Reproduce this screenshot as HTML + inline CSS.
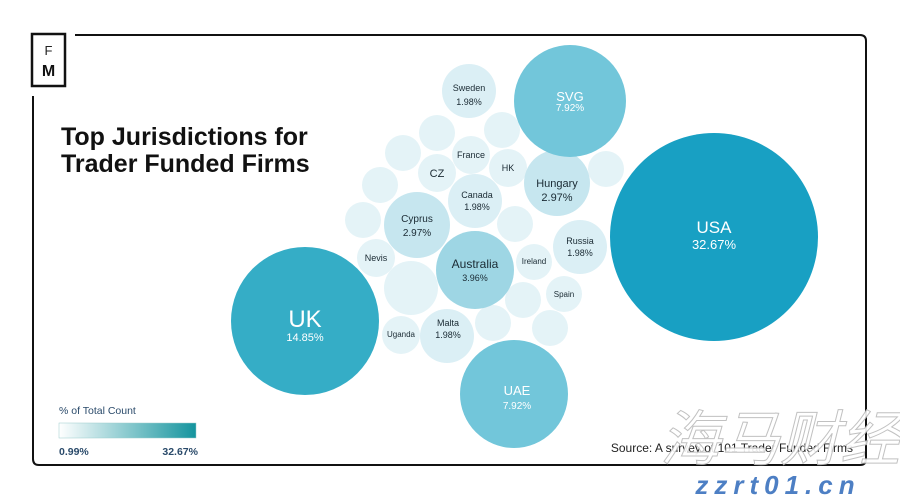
<!DOCTYPE html>
<html><head><meta charset="utf-8"><style>
body{margin:0;background:#fff;width:900px;height:499px;overflow:hidden;font-family:"Liberation Sans",sans-serif}
</style></head><body>
<svg width="900" height="499" viewBox="0 0 900 499" xmlns="http://www.w3.org/2000/svg" font-family="Liberation Sans, sans-serif">
<path d="M75 35 H860 Q866 35 866 41 V459 Q866 465 860 465 H39 Q33 465 33 459 V96" fill="none" stroke="#111" stroke-width="2"/>
<rect x="32" y="34" width="33" height="52" fill="#fff" stroke="#111" stroke-width="2.5"/>
<text x="48.5" y="55" font-size="13" text-anchor="middle" fill="#222">F</text>
<text x="48.5" y="76" font-size="16" font-weight="bold" text-anchor="middle" fill="#111">M</text>
<text x="61" y="145" font-size="25" font-weight="bold" fill="#111">Top Jurisdictions for</text>
<text x="61" y="172" font-size="25" font-weight="bold" fill="#111">Trader Funded Firms</text>
<g fill="#e4f3f7">
<circle cx="437" cy="133" r="18"/><circle cx="502" cy="130" r="18"/><circle cx="403" cy="153" r="18"/>
<circle cx="606" cy="169" r="18"/><circle cx="380" cy="185" r="18"/><circle cx="363" cy="220" r="18"/>
<circle cx="515" cy="224" r="18"/><circle cx="411" cy="288" r="27"/><circle cx="523" cy="300" r="18"/>
<circle cx="493" cy="323" r="18"/><circle cx="550" cy="328" r="18"/>
<circle cx="471" cy="155" r="19"/><circle cx="508" cy="168" r="19"/><circle cx="437" cy="173" r="19"/>
<circle cx="376" cy="258" r="19"/><circle cx="534" cy="262" r="18"/><circle cx="564" cy="294" r="18"/><circle cx="401" cy="335" r="19"/>
</g>
<g fill="#dbeff5">
<circle cx="469" cy="91" r="27"/><circle cx="475" cy="201" r="27"/><circle cx="580" cy="247" r="27"/><circle cx="447" cy="336" r="27"/>
</g>
<g fill="#c6e6ef"><circle cx="557" cy="183" r="33"/><circle cx="417" cy="225" r="33"/></g>
<circle cx="475" cy="270" r="39" fill="#9ed6e4"/>
<circle cx="570" cy="101" r="56" fill="#72c6da"/>
<circle cx="514" cy="394" r="54" fill="#72c6da"/>
<circle cx="305" cy="321" r="74" fill="#35adc6"/>
<circle cx="714" cy="237" r="104" fill="#18a0c3"/>
<g fill="#fff" text-anchor="middle">
<text x="714" y="233" font-size="17">USA</text><text x="714" y="249" font-size="13">32.67%</text>
<text x="305" y="327" font-size="24">UK</text><text x="305" y="341" font-size="11">14.85%</text>
<text x="570" y="101" font-size="13">SVG</text><text x="570" y="111" font-size="10">7.92%</text>
<text x="517" y="395" font-size="13">UAE</text><text x="517" y="409" font-size="10">7.92%</text>
</g>
<g fill="#1a2a33" text-anchor="middle" font-size="9">
<text x="475" y="268" font-size="12">Australia</text><text x="475" y="281">3.96%</text>
<text x="557" y="187" font-size="11">Hungary</text><text x="557" y="201" font-size="11">2.97%</text>
<text x="417" y="222" font-size="10">Cyprus</text><text x="417" y="236" font-size="10">2.97%</text>
<text x="469" y="91">Sweden</text><text x="469" y="105">1.98%</text>
<text x="477" y="198">Canada</text><text x="477" y="210">1.98%</text>
<text x="580" y="244">Russia</text><text x="580" y="256">1.98%</text>
<text x="448" y="326">Malta</text><text x="448" y="338">1.98%</text>
<text x="471" y="158">France</text><text x="508" y="171">HK</text><text x="437" y="177" font-size="11">CZ</text>
<text x="376" y="261">Nevis</text><text x="534" y="264" font-size="8">Ireland</text><text x="564" y="297" font-size="8">Spain</text><text x="401" y="337" font-size="8">Uganda</text>
</g>
<text x="59" y="414" font-size="10.5" fill="#2a4a6a">% of Total Count</text>
<defs><linearGradient id="g"><stop offset="0" stop-color="#fff"/><stop offset="1" stop-color="#14949e"/></linearGradient></defs>
<rect x="59" y="423" width="137" height="15" fill="url(#g)" stroke="#9cc" stroke-width="0.5"/>
<text x="59" y="455" font-size="10.5" font-weight="bold" fill="#2a4a6a">0.99%</text>
<text x="198" y="455" font-size="10.5" font-weight="bold" fill="#2a4a6a" text-anchor="end">32.67%</text>
<text x="853" y="452" font-size="12" fill="#222" text-anchor="end">Source: A survey of 101 Trader Funded Firms</text>
<text x="780" y="460" font-size="60" font-style="italic" font-family="Noto Sans CJK SC, sans-serif" fill="#fff" stroke="#bbb" stroke-width="1" text-anchor="middle" opacity="0.9">海马财经</text>
<text x="778" y="494" font-size="26" font-weight="bold" font-style="italic" fill="#4d7fc4" text-anchor="middle" letter-spacing="6">zzrt01.cn</text>
</svg>
</body></html>
